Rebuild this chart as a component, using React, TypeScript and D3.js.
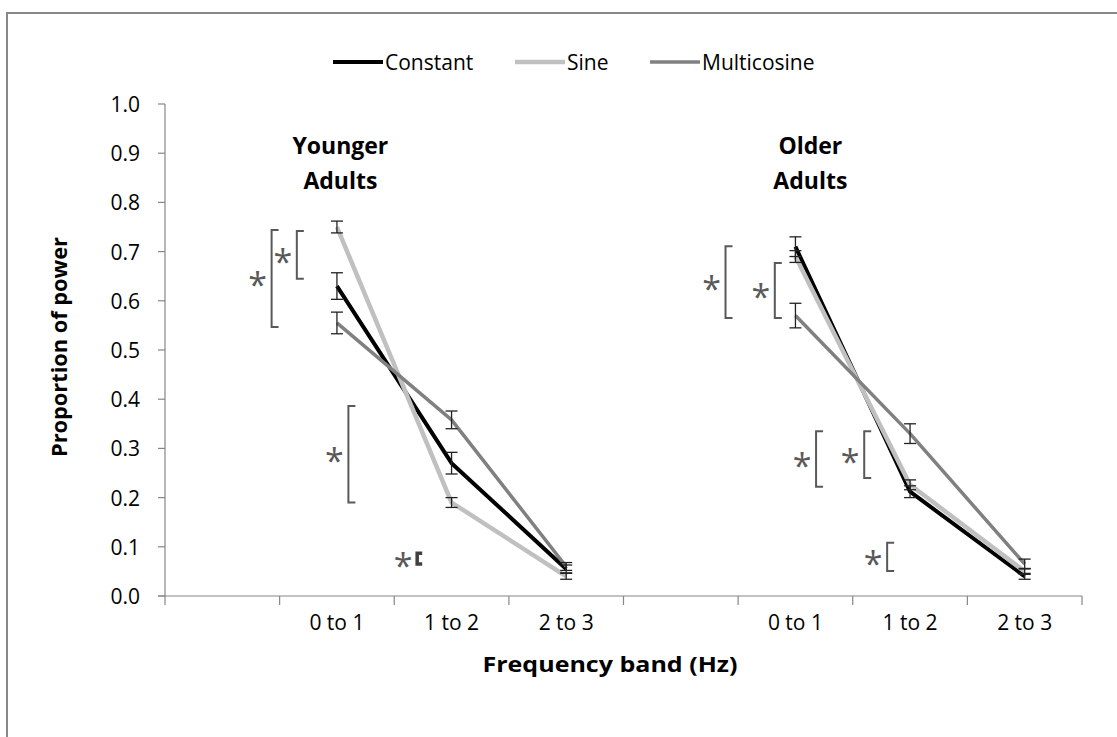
import React, { useEffect } from 'react';
import * as d3 from 'd3';

// ---- data ----
const slots = [0, 1, 2, 3, 4, 5, 6, 7];
const slotLabels = ['', '0 to 1', '1 to 2', '2 to 3', '', '0 to 1', '1 to 2', '2 to 3'];
const youngerSlots = [1, 2, 3];
const olderSlots = [5, 6, 7];
const yTicks = [0, 0.1, 0.2, 0.3, 0.4, 0.5, 0.6, 0.7, 0.8, 0.9, 1.0];

const seriesNames = ['Constant', 'Sine', 'Multicosine'];
const seriesColors = ['#000000', '#c0c0c0', '#808080'];
const seriesWidths = [4, 4.5, 3.5];

const constantYounger = [0.63, 0.27, 0.055];
const constantYoungerErr = [0.027, 0.022, 0.008];
const sineYounger = [0.75, 0.19, 0.04];
const sineYoungerErr = [0.012, 0.01, 0.006];
const multicosineYounger = [0.555, 0.358, 0.06];
const multicosineYoungerErr = [0.022, 0.018, 0.008];

const constantOlder = [0.71, 0.212, 0.04];
const constantOlderErr = [0.02, 0.012, 0.006];
const sineOlder = [0.69, 0.226, 0.05];
const sineOlderErr = [0.012, 0.01, 0.006];
const multicosineOlder = [0.57, 0.33, 0.065];
const multicosineOlderErr = [0.025, 0.02, 0.01];

// significance brackets: slot, offset (fraction of band), low, high, heavy
const bracketSlot = [1, 1, 2, 2, 5, 5, 6, 6, 6];
const bracketOffset = [-0.57, -0.35, -0.9, -0.3, -0.61, -0.18, -0.82, -0.4, -0.2];
const bracketLow = [0.547, 0.645, 0.19, 0.065, 0.565, 0.565, 0.222, 0.24, 0.051];
const bracketHigh = [0.744, 0.742, 0.386, 0.087, 0.711, 0.677, 0.335, 0.335, 0.108];
const bracketHeavy = [false, false, false, true, false, false, false, false, false];

const panelTitles = [['Younger', 'Adults'], ['Older', 'Adults']];
const panelTitleSlot = [1, 5];
const panelTitleOffset = [0.03, 0.13];
const panelTitleValue = [0.9, 0.9];

const FONT = "'Open Sans', 'Noto Sans', sans-serif";

export default function App() {
  useEffect(() => {
    document.body.style.margin = '0';
  }, []);

  const W = 1117;
  const H = 737;
  const x = d3.scaleBand<number>().domain(slots).range([165, 1082]).padding(0);
  const bw = x.bandwidth();
  const cx = (s: number) => (x(s) as number) + bw / 2;
  const y = d3.scaleLinear().domain([0, 1]).range([596, 104]);

  const groups = [
    {
      slots: youngerSlots,
      series: [
        { v: constantYounger, e: constantYoungerErr },
        { v: sineYounger, e: sineYoungerErr },
        { v: multicosineYounger, e: multicosineYoungerErr },
      ],
    },
    {
      slots: olderSlots,
      series: [
        { v: constantOlder, e: constantOlderErr },
        { v: sineOlder, e: sineOlderErr },
        { v: multicosineOlder, e: multicosineOlderErr },
      ],
    },
  ];

  const line = d3
    .line<[number, number]>()
    .x((d) => d[0])
    .y((d) => d[1]);

  const axisColor = '#868686';
  const annColor = '#595959';
  const boundaries = slots.map((s) => x(s) as number).concat([x.range()[1]]);

  const legendX = [333, 515, 650];

  return (
    <svg width={W} height={H} style={{ display: 'block', background: '#fff' }} fontFamily={FONT}>
      <rect x={7} y={13} width={W + 10} height={H + 10} fill="#fff" stroke="#888" strokeWidth={2} />

      {/* legend */}
      {seriesNames.map((n, i) => (
        <g key={n}>
          <line x1={legendX[i]} x2={legendX[i] + 50} y1={62} y2={62} stroke={seriesColors[i]} strokeWidth={seriesWidths[i]} />
          <text x={legendX[i] + 52} y={70} fontSize={21} fill="#000">{n}</text>
        </g>
      ))}

      {/* y axis */}
      <line x1={165} x2={165} y1={y(1)} y2={y(0)} stroke={axisColor} strokeWidth={1.2} />
      {yTicks.map((t) => (
        <g key={t}>
          <line x1={158} x2={165} y1={y(t)} y2={y(t)} stroke={axisColor} strokeWidth={1.2} />
          <text x={140} y={y(t) + 8} fontSize={21} textAnchor="end" fill="#000">{t.toFixed(1)}</text>
        </g>
      ))}
      {/* x axis */}
      <line x1={158} x2={x.range()[1]} y1={y(0)} y2={y(0)} stroke={axisColor} strokeWidth={1.2} />
      {boundaries.map((b, i) => (
        <line key={i} x1={b} x2={b} y1={y(0)} y2={y(0) + 9} stroke={axisColor} strokeWidth={1.2} />
      ))}
      {slots.map((s) => (
        <text key={s} x={cx(s)} y={630} fontSize={21} textAnchor="middle" fill="#000">{slotLabels[s]}</text>
      ))}

      <text x={610} y={672} fontSize={22} fontWeight="bold" textAnchor="middle" fill="#000" textLength={255} lengthAdjust="spacingAndGlyphs">Frequency band (Hz)</text>
      <text transform={`translate(67,347) rotate(-90)`} fontSize={21} fontWeight="bold" textAnchor="middle" fill="#000" textLength={220} lengthAdjust="spacingAndGlyphs">Proportion of power</text>

      {/* panel titles */}
      {panelTitles.map((lines, i) => (
        <text key={i} x={cx(panelTitleSlot[i]) + panelTitleOffset[i] * bw} y={y(panelTitleValue[i]) + 1} fontSize={23} fontWeight="bold" textAnchor="middle" fill="#000">
          {lines.map((l, j) => (
            <tspan key={j} x={cx(panelTitleSlot[i]) + panelTitleOffset[i] * bw} dy={j === 0 ? 0 : 35}>{l}</tspan>
          ))}
        </text>
      ))}

      {/* lines */}
      {groups.map((g, gi) =>
        g.series.map((s, si) => (
          <path
            key={`${gi}-${si}`}
            d={line(g.slots.map((sl, k) => [cx(sl), y(s.v[k])] as [number, number])) || ''}
            fill="none"
            stroke={seriesColors[si]}
            strokeWidth={seriesWidths[si]}
            strokeLinejoin="round"
          />
        ))
      )}

      {/* error bars */}
      {groups.map((g, gi) =>
        g.series.map((s, si) =>
          g.slots.map((sl, k) => {
            const xc = cx(sl);
            const y1 = y(s.v[k] + s.e[k]);
            const y2 = y(s.v[k] - s.e[k]);
            return (
              <g key={`${gi}-${si}-${k}`} stroke="#222" strokeWidth={1.3}>
                <line x1={xc} x2={xc} y1={y1} y2={y2} />
                <line x1={xc - 6} x2={xc + 6} y1={y1} y2={y1} />
                <line x1={xc - 6} x2={xc + 6} y1={y2} y2={y2} />
              </g>
            );
          })
        )
      )}

      {/* significance brackets */}
      {bracketSlot.map((s, i) => {
        const bx = cx(s) + bracketOffset[i] * bw;
        const yt = y(bracketHigh[i]);
        const yb = y(bracketLow[i]);
        const cap = bracketHeavy[i] ? 5 : 7;
        const mid = (yt + yb) / 2;
        return (
          <g key={i}>
            <path
              d={`M${bx + cap},${yt} H${bx} V${yb} H${bx + cap}`}
              fill="none"
              stroke={bracketHeavy[i] ? '#404040' : annColor}
              strokeWidth={bracketHeavy[i] ? 3.5 : 2}
            />
            <text x={bx - 14} y={mid + 19} fontSize={34} textAnchor="middle" fill={annColor}>*</text>
          </g>
        );
      })}
    </svg>
  );
}
